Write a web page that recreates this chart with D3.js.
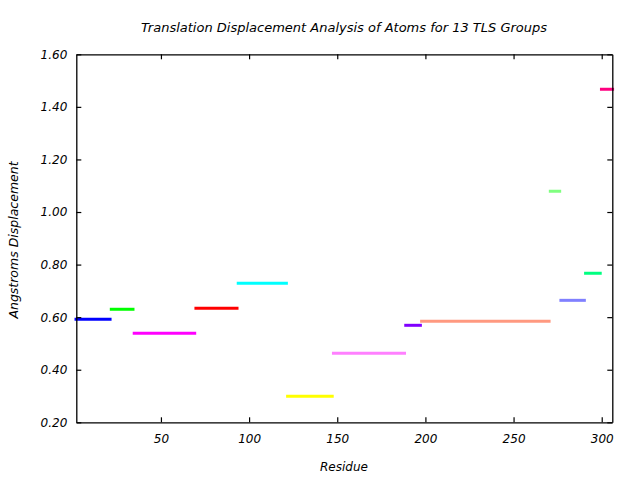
<!DOCTYPE html>
<html>
<head>
<meta charset="utf-8">
<script src="https://cdn.jsdelivr.net/npm/d3@7"></script>
<style>
  body { margin: 0; background: #fff; }
  svg text { font-family: "DejaVu Sans", sans-serif; font-style: italic; fill: #000; }
</style>
</head>
<body>
<svg id="chart" width="640" height="480"></svg>
<script>
const groups = ["1","2","3","4","5","6","7","8","9","10","11","12","13"];
const startResidue = [1, 21, 34, 69, 93, 121, 147, 188, 197, 270, 276, 290, 299];
const endResidue   = [22, 35, 70, 94, 122, 148, 189, 198, 271, 277, 291, 300, 307];
const displacement = [0.592, 0.630, 0.539, 0.634, 0.729, 0.299, 0.463, 0.569, 0.584, 1.079, 0.664, 0.767, 1.467];
const colors = ["#0000ff","#00ff00","#ff00ff","#ff0000","#00ffff","#ffff00","#ff80ff","#8000ff","#ff9980","#80ff80","#8080ff","#00ff80","#ff0080"];
const xTicks = [50, 100, 150, 200, 250, 300];
const yTicks = [0.2, 0.4, 0.6, 0.8, 1.0, 1.2, 1.4, 1.6];

const svg = d3.select("#chart");
const L = 76.3, R = 612.3, T = 54.3, B = 422.3;
const x = d3.scaleLinear().domain([2, 306]).range([L, R]);
const y = d3.scaleLinear().domain([0.2, 1.6]).range([B, T]);

// segments
svg.append("g").selectAll("line").data(groups).join("line")
  .attr("x1", (d, i) => x(startResidue[i]))
  .attr("x2", (d, i) => x(endResidue[i]))
  .attr("y1", (d, i) => y(displacement[i]))
  .attr("y2", (d, i) => y(displacement[i]))
  .attr("stroke", (d, i) => colors[i])
  .attr("stroke-width", 3);

// bottom axis (ticks pointing up)
const gB = svg.append("g").attr("transform", `translate(0,${B})`)
  .call(d3.axisBottom(x).tickValues(xTicks).tickSizeInner(-5).tickSizeOuter(0).tickPadding(12));
// top axis (ticks pointing down, no labels)
const gT = svg.append("g").attr("transform", `translate(0,${T})`)
  .call(d3.axisTop(x).tickValues(xTicks).tickSizeInner(-5).tickSizeOuter(0).tickFormat(""));
// left axis
const gL = svg.append("g").attr("transform", `translate(${L},0)`)
  .call(d3.axisLeft(y).tickValues(yTicks).tickSizeInner(-5).tickSizeOuter(0).tickPadding(9).tickFormat(d3.format(".2f")));
// right axis
const gR = svg.append("g").attr("transform", `translate(${R},0)`)
  .call(d3.axisRight(y).tickValues(yTicks).tickSizeInner(-5).tickSizeOuter(0).tickFormat(""));

[gB, gT, gL, gR].forEach(g => {
  g.selectAll("path.domain").attr("stroke", "#000").attr("stroke-width", 1.3);
  g.selectAll(".tick line").attr("stroke", "#000").attr("stroke-width", 1.2);
  g.selectAll("text").style("font-size", "12px").style("font-family", "DejaVu Sans, sans-serif").style("font-style", "italic").attr("fill", "#000");
});

// titles
svg.append("text").attr("x", 344).attr("y", 32).attr("text-anchor", "middle")
  .style("font-size", "13px").text("Translation Displacement Analysis of Atoms for 13 TLS Groups");
svg.append("text").attr("x", 344).attr("y", 471).attr("text-anchor", "middle")
  .style("font-size", "12px").text("Residue");
svg.append("text").attr("transform", "translate(18,240) rotate(-90)").attr("text-anchor", "middle")
  .style("font-size", "12.5px").text("Angstroms Displacement");
</script>
</body>
</html>
